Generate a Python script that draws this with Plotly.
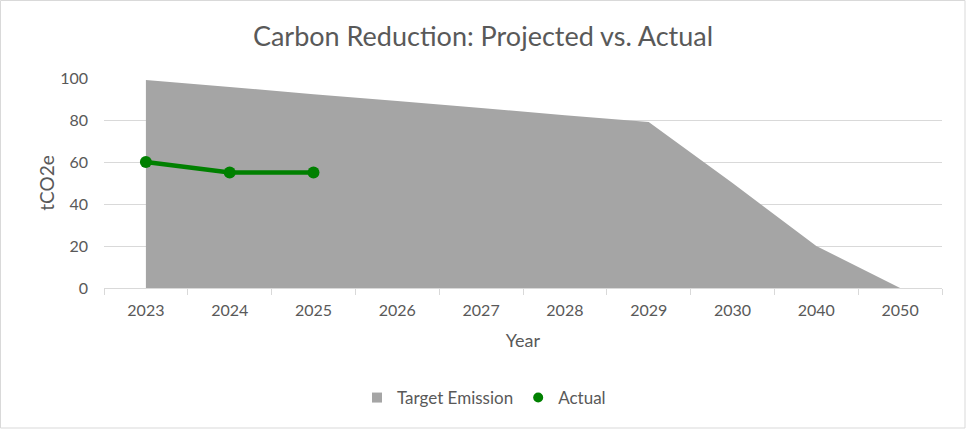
import plotly.graph_objects as go

categories = ["2023", "2024", "2025", "2026", "2027", "2028", "2029", "2030", "2040", "2050"]
target_emission = [99, 95.7, 92.3, 89, 85.7, 82.3, 79, 50, 20, 0]
actual_years = ["2023", "2024", "2025"]
actual_values = [60, 55, 55]

FONT = "Lato"
TXT = "#595959"
GRAY = "#a5a5a5"
GREEN = "#008000"

fig = go.Figure()
fig.add_trace(go.Scatter(
    x=categories, y=target_emission, name="Target Emission",
    mode="none", fill="tozeroy", fillcolor=GRAY, showlegend=False,
    line=dict(width=0, color=GRAY),
))
fig.add_trace(go.Scatter(
    x=actual_years, y=actual_values, name="Actual",
    mode="lines+markers", showlegend=False,
    line=dict(color=GREEN, width=4.5),
    marker=dict(color=GREEN, size=12),
))
# legend entries
fig.add_trace(go.Scatter(x=[None], y=[None], name="Target Emission", mode="markers",
                         marker=dict(symbol="square", color=GRAY, size=10)))
fig.add_trace(go.Scatter(x=[None], y=[None], name="Actual", mode="markers",
                         marker=dict(symbol="circle", color=GREEN, size=10)))

fig.update_layout(
    width=966, height=429,
    paper_bgcolor="white", plot_bgcolor="white",
    margin=dict(l=104, r=24, t=78, b=141, autoexpand=False),
    font=dict(family=FONT, color=TXT, size=16),
    title=dict(text="Carbon Reduction: Projected vs. Actual", x=0.5, xanchor="center",
               y=1 - 37 / 429, yanchor="middle", font=dict(size=27, color=TXT, family=FONT)),
    showlegend=True,
    legend=dict(orientation="h", x=(484 - 104) / 838, xanchor="center",
                y=-110 / 210, yanchor="middle",
                font=dict(size=17, color=TXT), itemwidth=30, traceorder="normal"),
    xaxis=dict(
        type="category", categoryorder="array", categoryarray=categories,
        range=[-0.5, len(categories) - 0.5],
        showline=True, linecolor="#d9d9d9", linewidth=1,
        ticks="outside", tickson="boundaries", ticklen=6, tickcolor="#d9d9d9",
        showgrid=False, tickfont=dict(size=16, color=TXT), ticklabelstandoff=8,
        title=dict(text="Year", font=dict(size=18, color=TXT), standoff=16),
    ),
    yaxis=dict(
        range=[0, 100], dtick=20, showgrid=True, gridcolor="#d9d9d9", gridwidth=1,
        zeroline=False, showline=False, ticks="", tickfont=dict(size=16, color=TXT),
        ticklabelstandoff=15,
        title=dict(text="tCO2e", font=dict(size=19, color=TXT), standoff=0),
    ),
    shapes=[dict(type="rect", xref="paper", yref="paper", x0=-103.5/838, x1=1 + 23/838,
                 y0=-140/210, y1=1 + 77.5/210, line=dict(color="#d9d9d9", width=1))],
)

fig.write_html("out.html", config={"displayModeBar": False},
               post_script="document.body.style.margin='0px';document.body.style.overflow='hidden';")
